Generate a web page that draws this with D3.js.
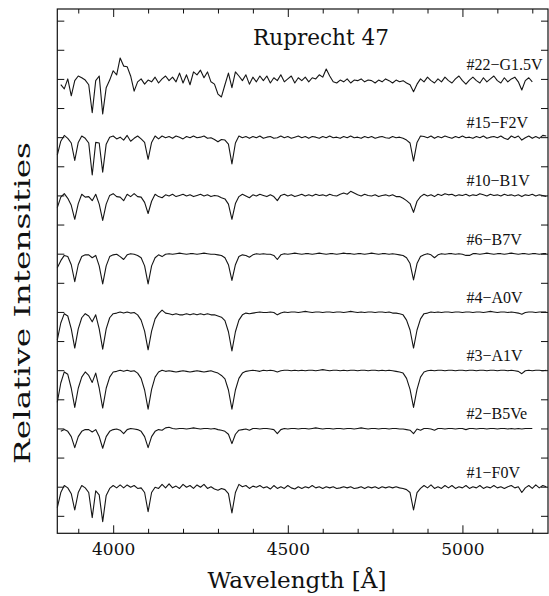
<!DOCTYPE html>
<html>
<head>
<meta charset="utf-8">
<script src="https://cdn.jsdelivr.net/npm/d3@7"></script>
<style>
  body { margin: 0; background: #fff; }
</style>
</head>
<body>
<svg id="main-svg"></svg>
<script>
// wavelength grid in Angstrom, one value every 10 A from 3840 to 5240
let wavelengths = d3.range(3840, 5241, 10);

// labels, bottom to top, and the vertical shift of each spectrum
let stars = ['#1\u2212F0V', '#2\u2212B5Ve', '#3\u2212A1V', '#4\u2212A0V', '#6\u2212B7V', '#10\u2212B1V', '#15\u2212F2V', '#22\u2212G1.5V'];
let offsets = [-0.5, 0.5, 1.5, 2.5, 3.5, 4.5, 5.5, 6.5];

// relative intensities (rows of ten: 3840-3930, 3940-4030, ...)
let flux1 = [
  0.64, 0.90, 1.02, 0.98, 0.88, 0.60, 0.90, 1.02, 0.98, 0.90,
  0.47, 0.93, 0.86, 0.40, 0.85, 0.97, 1.02, 0.98, 1.03, 0.98,
  1.03, 0.99, 1.02, 0.97, 0.98, 0.90, 0.57, 0.90, 0.99, 0.97,
  1.04, 0.98, 1.05, 0.98, 1.01, 0.97, 1.04, 0.99, 1.02, 0.97,
  1.03, 0.99, 1.04, 0.97, 1.00, 0.96, 0.94, 0.97, 0.95, 0.88,
  0.55, 0.90, 1.04, 1.00, 1.02, 0.97, 1.01, 0.99, 1.02, 0.98,
  1.00, 0.96, 1.02, 0.97, 1.00, 0.97, 1.02, 0.98, 0.96, 1.00,
  0.97, 1.00, 0.98, 1.02, 0.98, 1.00, 0.97, 1.00, 0.98, 1.00,
  0.97, 0.98, 1.00, 0.98, 1.00, 0.97, 0.98, 1.00, 0.97, 1.00,
  0.98, 1.00, 0.97, 1.00, 0.98, 1.00, 0.98, 1.00, 0.98, 0.97,
  0.95, 0.90, 0.60, 0.90, 0.97, 1.02, 0.98, 1.03, 0.97, 1.00,
  0.97, 1.02, 0.98, 1.02, 0.97, 1.00, 0.98, 1.02, 0.97, 1.00,
  0.98, 1.02, 0.97, 1.00, 0.98, 1.02, 0.98, 1.00, 0.97, 1.00,
  1.02, 0.98, 1.00, 0.90, 0.98, 1.02, 0.97, 1.03, 0.98, 1.02,
  1.00
];
let flux2 = [
  null, 0.95, 0.98, 0.95, 0.86, 0.67, 0.86, 0.95, 0.98, 0.98,
  0.94, 0.98, 0.86, 0.66, 0.86, 0.95, 0.98, 0.99, 0.97, 0.91,
  0.98, 1.00, 0.99, 0.98, 0.95, 0.86, 0.67, 0.86, 0.95, 0.98,
  0.97, 1.01, 1.02, 1.00, 0.99, 1.00, 1.00, 0.99, 1.00, 1.01,
  1.00, 0.99, 1.00, 1.00, 0.99, 1.00, 0.98, 0.97, 0.95, 0.90,
  0.74, 0.90, 0.97, 0.98, 0.99, 0.97, 1.00, 1.00, 0.99, 1.00,
  1.00, 0.99, 0.98, 0.91, 0.98, 1.00, 0.99, 1.00, 1.00, 0.99,
  1.00, 1.00, 0.99, 1.00, 1.01, 1.00, 0.99, 1.00, 1.00, 0.99,
  1.00, 1.00, 0.99, 1.00, 1.00, 0.99, 1.00, 1.01, 1.00, 0.99,
  1.00, 1.00, 0.99, 1.00, 1.00, 0.99, 1.00, 1.00, 0.99, 0.99,
  0.98, 0.97, 0.91, 0.99, 0.97, 1.00, 1.00, 0.99, 0.97, 1.00,
  1.00, 0.99, 1.00, 1.00, 0.99, 1.00, 1.00, 0.98, 1.00, 1.00,
  0.99, 1.00, 1.00, 0.99, 1.00, 1.00, 0.99, 1.00, 1.00, 0.99,
  1.00, 0.99, 1.00, 0.99, 1.00, 1.00, 1.00, null, null, null,
  null
];
let flux3 = [
  0.45, 0.78, 0.97, 0.93, 0.69, 0.36, 0.69, 0.88, 0.97, 0.91,
  0.79, 0.95, 0.69, 0.35, 0.69, 0.88, 0.97, 0.98, 1.00, 0.98,
  1.00, 0.98, 0.99, 0.95, 0.86, 0.66, 0.33, 0.67, 0.88, 0.97,
  1.00, 0.98, 0.99, 0.98, 0.97, 0.98, 0.99, 0.98, 0.97, 0.98,
  0.99, 0.98, 0.97, 0.98, 0.99, 0.97, 0.95, 0.91, 0.85, 0.66,
  0.33, 0.66, 0.86, 0.95, 0.98, 0.99, 1.00, 0.99, 0.98, 1.00,
  0.99, 1.00, 0.99, 0.97, 0.99, 1.00, 1.00, 0.99, 1.00, 0.99,
  1.00, 0.99, 1.00, 1.00, 0.99, 1.00, 1.01, 1.00, 0.99, 1.00,
  1.00, 0.99, 1.00, 0.99, 1.00, 1.00, 0.99, 1.00, 1.00, 0.99,
  1.00, 1.00, 0.99, 1.00, 0.99, 1.00, 0.99, 0.98, 0.97, 0.95,
  0.86, 0.67, 0.36, 0.67, 0.88, 0.97, 0.99, 1.00, 0.99, 1.00,
  1.00, 0.99, 1.00, 1.00, 0.99, 1.00, 1.00, 0.99, 1.00, 1.00,
  0.99, 1.00, 1.00, 0.99, 1.00, 1.00, 0.99, 1.00, 1.00, 0.99,
  1.00, 0.99, 0.98, 0.94, 0.99, 1.00, 0.99, 1.00, 1.00, 0.99,
  1.00
];
let flux4 = [
  0.52, 0.81, 0.97, 0.93, 0.71, 0.38, 0.71, 0.90, 0.97, 0.93,
  0.83, 0.95, 0.71, 0.36, 0.71, 0.90, 0.97, 0.98, 1.00, 0.98,
  1.00, 0.98, 0.99, 0.95, 0.86, 0.67, 0.35, 0.67, 0.88, 0.97,
  1.03, 0.98, 0.97, 0.95, 0.97, 0.95, 0.95, 0.97, 0.95, 0.97,
  0.95, 0.97, 0.95, 0.97, 0.95, 0.95, 0.93, 0.91, 0.85, 0.66,
  0.33, 0.66, 0.86, 0.95, 0.98, 0.97, 0.98, 0.99, 1.00, 0.99,
  0.99, 1.00, 0.99, 0.95, 0.98, 1.00, 0.99, 1.00, 1.00, 0.99,
  1.00, 1.01, 1.00, 0.99, 1.00, 1.00, 0.99, 1.00, 1.00, 0.99,
  1.00, 1.00, 0.99, 1.00, 1.01, 1.00, 0.99, 1.00, 0.99, 1.00,
  1.00, 0.99, 1.00, 1.00, 0.99, 1.00, 0.98, 0.98, 0.97, 0.95,
  0.86, 0.69, 0.38, 0.69, 0.88, 0.97, 0.98, 1.00, 0.99, 1.00,
  0.99, 1.00, 1.00, 0.99, 1.00, 1.00, 0.99, 1.00, 1.00, 0.99,
  1.00, 1.00, 0.99, 1.00, 1.01, 1.00, 0.99, 1.00, 1.00, 0.99,
  1.00, 0.99, 0.98, 0.96, 0.99, 1.00, 1.00, 0.99, 1.00, 1.00,
  1.00
];
let flux6 = [
  0.76, 0.88, 0.97, 0.95, 0.81, 0.52, 0.81, 0.95, 0.98, 0.98,
  0.93, 0.97, 0.79, 0.48, 0.79, 0.95, 0.98, 0.99, 0.95, 0.90,
  0.98, 1.00, 0.99, 0.97, 0.93, 0.79, 0.48, 0.79, 0.93, 0.98,
  0.95, 0.99, 1.00, 0.99, 1.00, 1.01, 1.00, 0.99, 1.00, 1.00,
  0.99, 1.00, 1.01, 1.00, 0.99, 0.99, 0.98, 0.97, 0.93, 0.81,
  0.54, 0.81, 0.95, 0.98, 0.97, 0.94, 0.98, 1.00, 0.99, 1.00,
  0.99, 0.99, 0.97, 0.90, 0.98, 1.00, 0.99, 1.00, 1.01, 1.00,
  0.99, 1.00, 1.00, 0.99, 1.00, 1.01, 1.00, 0.99, 1.00, 1.00,
  0.99, 1.00, 1.01, 1.00, 1.00, 0.99, 1.00, 1.00, 0.99, 1.00,
  1.01, 1.00, 0.99, 1.00, 1.00, 0.99, 1.00, 0.99, 0.98, 0.97,
  0.93, 0.83, 0.55, 0.83, 0.95, 0.98, 1.00, 0.98, 0.93, 0.98,
  1.00, 0.99, 1.00, 1.00, 0.99, 1.00, 0.99, 0.97, 0.97, 1.00,
  1.00, 0.99, 1.00, 1.01, 1.00, 0.99, 1.00, 1.00, 0.99, 1.00,
  1.01, 1.00, 0.99, 1.00, 1.00, 0.99, 1.00, 1.00, 0.99, 1.00,
  1.00
];
let flux10 = [
  0.79, 0.97, 1.03, 0.95, 0.83, 0.59, 0.86, 1.02, 0.97, 0.98,
  0.91, 1.02, 0.85, 0.57, 0.85, 1.00, 1.03, 0.98, 0.97, 0.91,
  1.02, 0.98, 1.03, 0.98, 0.97, 0.88, 0.69, 0.90, 1.02, 0.98,
  0.96, 1.01, 0.99, 1.02, 0.98, 1.00, 1.02, 0.99, 1.01, 0.98,
  1.00, 1.02, 0.99, 1.01, 0.98, 1.00, 0.99, 0.96, 0.94, 0.85,
  0.59, 0.86, 0.98, 1.02, 0.99, 0.96, 1.01, 0.99, 1.02, 1.00,
  0.98, 1.01, 0.98, 0.91, 1.00, 1.02, 0.99, 1.01, 0.98, 1.00,
  1.02, 0.99, 1.01, 0.99, 1.02, 1.00, 1.01, 0.99, 1.02, 1.00,
  0.99, 1.02, 1.04, 1.02, 1.07, 1.04, 1.01, 0.99, 1.02, 1.00,
  0.99, 1.01, 0.98, 1.00, 1.01, 0.99, 1.01, 0.98, 0.98, 0.95,
  0.91, 0.86, 0.71, 0.90, 0.98, 1.02, 0.99, 1.01, 0.98, 1.02,
  1.00, 1.03, 1.01, 1.02, 0.99, 1.01, 1.00, 1.02, 0.99, 1.01,
  1.00, 1.03, 1.01, 0.99, 1.02, 1.00, 1.01, 0.99, 1.02, 1.00,
  1.01, 0.99, 1.01, 0.98, 1.01, 1.00, 1.02, 0.99, 1.01, 1.00,
  0.98
];
let flux15 = [
  0.69, 0.93, 1.03, 0.98, 0.90, 0.60, 0.91, 1.02, 0.98, 0.90,
  0.35, 0.91, 0.90, 0.40, 0.88, 1.00, 1.02, 0.97, 1.00, 0.95,
  1.03, 0.93, 0.98, 1.02, 0.97, 0.91, 0.62, 0.91, 1.02, 0.97,
  1.02, 0.99, 1.01, 0.98, 1.02, 1.00, 0.97, 1.01, 0.99, 1.02,
  0.99, 1.00, 1.02, 0.98, 0.99, 0.96, 0.92, 0.96, 0.95, 0.88,
  0.54, 0.90, 1.02, 0.99, 1.01, 0.98, 1.01, 0.99, 1.02, 0.98,
  1.00, 1.01, 0.98, 0.99, 1.02, 0.99, 1.01, 0.98, 1.00, 1.02,
  0.99, 1.01, 0.98, 1.01, 1.00, 0.98, 1.01, 0.99, 1.02, 0.99,
  1.00, 0.98, 1.01, 0.99, 1.02, 0.99, 1.00, 0.98, 1.01, 0.99,
  1.01, 0.98, 1.00, 1.01, 0.99, 0.98, 1.01, 0.99, 1.00, 0.98,
  0.95, 0.90, 0.59, 0.91, 1.02, 1.01, 0.99, 1.02, 0.98, 1.01,
  0.99, 1.02, 1.00, 0.98, 1.01, 0.99, 1.02, 0.99, 1.00, 0.98,
  1.01, 0.99, 1.02, 0.98, 1.00, 1.01, 0.99, 1.02, 0.98, 0.96,
  1.02, 0.99, 1.02, 0.95, 0.99, 1.02, 0.98, 1.01, 0.98, 1.03,
  1.02
];
let flux22 = [
  null, 0.90, 0.83, 1.00, 0.71, 0.97, 1.05, 1.02, 0.98, 0.90,
  0.42, 0.97, 1.05, 0.40, 0.85, 0.98, 1.14, 1.07, 1.36, 1.22,
  1.21, 1.05, 0.79, 0.95, 1.00, 0.91, 0.98, 0.95, 1.03, 0.93,
  1.00, 1.05, 0.97, 1.03, 0.95, 1.10, 0.93, 1.07, 0.90, 1.12,
  1.07, 1.15, 1.02, 1.12, 0.95, 0.91, 0.74, 0.69, 0.90, 1.10,
  0.85, 1.12, 1.05, 0.97, 1.07, 0.91, 1.03, 0.95, 1.05, 0.97,
  1.05, 0.93, 1.02, 0.97, 1.07, 0.95, 1.00, 1.05, 0.93, 1.02,
  0.97, 1.03, 0.95, 1.02, 1.00, 1.07, 1.03, 1.17, 1.05, 0.95,
  0.93, 0.98, 0.95, 1.00, 0.93, 0.98, 0.97, 1.00, 0.95, 0.98,
  0.97, 0.93, 0.98, 0.95, 1.00, 0.97, 0.93, 0.98, 0.95, 0.97,
  0.93, 0.90, 0.78, 0.91, 1.00, 0.95, 1.03, 0.97, 0.93, 1.00,
  0.95, 1.03, 0.97, 0.93, 1.00, 1.05, 0.97, 0.91, 0.98, 1.03,
  0.97, 0.93, 1.02, 0.95, 1.00, 1.05, 0.97, 0.93, 1.02, 0.95,
  1.00, 1.03, 0.95, 0.81, 0.97, 1.02, 0.95, null, null, null,
  null
];
let spectra = [flux1, flux2, flux3, flux4, flux6, flux10, flux15, flux22];

let majorTicks = [4000, 4500, 5000];
let minorTicks = [3900, 4100, 4200, 4300, 4400, 4600, 4700, 4800, 4900, 5100, 5200];
let yTicks = d3.range(0, 8.51, 0.5);

let width = 549;
let height = 596;
let serif = '"DejaVu Serif", "Liberation Serif", serif';
let labelFont = '"Liberation Serif", "DejaVu Serif", serif';

let svg = d3.select('#main-svg')
  .attr('width', width)
  .attr('height', height);

let x = d3.scaleLinear().domain([3840, 5245]).range([57.3, 548]);
let y = d3.scaleLinear().domain([-0.3, 8.7]).range([533.3, 9]);
let [x0, x1] = x.range();
let [y0, y1] = y.range();

// axes, ticks pointing inward on all four sides
function styleAxis(g) {
  g.select('.domain').remove();
  g.selectAll('line').attr('stroke', '#111').attr('stroke-width', 1);
  g.attr('font-family', serif).attr('font-size', 17);
  g.selectAll('text').attr('fill', '#111');
}

svg.append('g')
  .attr('transform', `translate(0,${y0})`)
  .call(d3.axisBottom(x).tickValues(majorTicks).tickSizeInner(-8).tickSizeOuter(0)
    .tickPadding(10).tickFormat(d3.format('d')))
  .call(styleAxis);
svg.append('g')
  .attr('transform', `translate(0,${y0})`)
  .call(d3.axisBottom(x).tickValues(minorTicks).tickSizeInner(-4.5).tickSizeOuter(0).tickFormat(''))
  .call(styleAxis);
svg.append('g')
  .attr('transform', `translate(0,${y1})`)
  .call(d3.axisTop(x).tickValues(majorTicks).tickSizeInner(-8).tickSizeOuter(0).tickFormat(''))
  .call(styleAxis);
svg.append('g')
  .attr('transform', `translate(0,${y1})`)
  .call(d3.axisTop(x).tickValues(minorTicks).tickSizeInner(-4.5).tickSizeOuter(0).tickFormat(''))
  .call(styleAxis);
svg.append('g')
  .attr('transform', `translate(${x0},0)`)
  .call(d3.axisLeft(y).tickValues(yTicks).tickSizeInner(-7).tickSizeOuter(0).tickFormat(''))
  .call(styleAxis);
svg.append('g')
  .attr('transform', `translate(${x1},0)`)
  .call(d3.axisRight(y).tickValues(yTicks).tickSizeInner(-7).tickSizeOuter(0).tickFormat(''))
  .call(styleAxis);

svg.append('rect')
  .attr('x', x0).attr('y', y1)
  .attr('width', x1 - x0).attr('height', y0 - y1)
  .attr('fill', 'none').attr('stroke', '#111').attr('stroke-width', 1.2);

// spectra
let line = d3.line()
  .defined(d => d[1] !== null)
  .x(d => x(d[0]))
  .y(d => y(d[1]));

spectra.forEach((flux, i) => {
  let pts = wavelengths.map((w, j) => [w, flux[j] === null ? null : flux[j] + offsets[i]]);
  svg.append('path').datum(pts)
    .attr('d', line)
    .attr('fill', 'none')
    .attr('stroke', '#151515')
    .attr('stroke-width', 1.1)
    .attr('stroke-linejoin', 'round');
});

// star labels
svg.selectAll('.star-label').data(stars).enter().append('text')
  .attr('class', 'star-label')
  .attr('x', 466.5)
  .attr('y', (d, i) => y(offsets[i] + 1) - 9)
  .attr('font-family', labelFont)
  .attr('font-size', 16)
  .attr('fill', '#111')
  .text(d => d);

// title and axis titles
svg.append('text')
  .attr('x', 321).attr('y', 45)
  .attr('text-anchor', 'middle')
  .attr('font-family', serif).attr('font-size', 22).attr('fill', '#111')
  .attr('textLength', 136).attr('lengthAdjust', 'spacingAndGlyphs')
  .text('Ruprecht 47');

svg.append('text')
  .attr('x', 297).attr('y', 588)
  .attr('text-anchor', 'middle')
  .attr('font-family', serif).attr('font-size', 22).attr('fill', '#111')
  .attr('textLength', 179).attr('lengthAdjust', 'spacingAndGlyphs')
  .text('Wavelength [\u00c5]');

svg.append('text')
  .attr('transform', 'translate(30,303) rotate(-90)')
  .attr('text-anchor', 'middle')
  .attr('font-family', serif).attr('font-size', 22).attr('fill', '#111')
  .attr('textLength', 322).attr('lengthAdjust', 'spacingAndGlyphs')
  .text('Relative Intensities');
</script>
</body>
</html>
